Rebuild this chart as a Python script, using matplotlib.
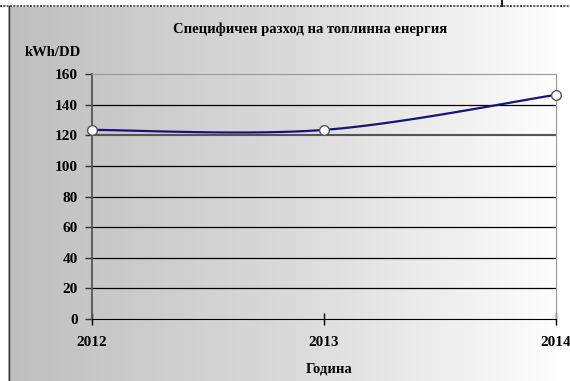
import numpy as np
import matplotlib.pyplot as plt
from matplotlib.lines import Line2D

years = [2012, 2013, 2014]
values = [123.5, 123.5, 146.4]
yticks = [0, 20, 40, 60, 80, 100, 120, 140, 160]

title = "Специфичен разход на топлинна енергия"
ylabel = "kWh/DD"
xlabel = "Година"


def smooth(xs, ys, n=60):
  # Excel-like smoothed line (cubic bezier through the points)
  p = np.column_stack([xs, ys]).astype(float)
  out = []
  for i in range(len(p) - 1):
    p0 = p[i - 1] if i > 0 else p[i]
    p3 = p[i + 2] if i + 2 < len(p) else p[i + 1]
    c1 = p[i] + (p[i + 1] - p0) / 6
    c2 = p[i + 1] - (p3 - p[i]) / 6
    t = np.linspace(0, 1, n)[:, None]
    seg = (1 - t) ** 3 * p[i] + 3 * (1 - t) ** 2 * t * c1 + 3 * (1 - t) * t ** 2 * c2 + t ** 3 * p[i + 1]
    out.append(seg)
  s = np.vstack(out)
  return s[:, 0], s[:, 1]


plt.rcParams['font.family'] = ['Liberation Serif', 'DejaVu Serif']
plt.rcParams['font.weight'] = 'bold'

W, H = 570, 381
fig = plt.figure(figsize=(W / 100, H / 100), dpi=100)
fig.patch.set_facecolor('white')

# gradient background of the chart area
bg = fig.add_axes([8 / W, 0, 1 - 8 / W, 1 - 7 / H])
grad = np.linspace(0, 1, 256)[None, :]
bg.imshow(grad, aspect='auto', cmap=plt.matplotlib.colors.LinearSegmentedColormap.from_list(
  'g', ['#bfbfbf', '#dadada', '#ffffff']), extent=[0, 1, 0, 1])
bg.set_axis_off()

# frame bits
fig.add_artist(Line2D([0, 1], [1 - 6 / H, 1 - 6 / H], color='#333333', lw=1.2, ls=(0, (1.2, 0.8))))
fig.add_artist(Line2D([8.5 / W, 8.5 / W], [0, 1 - 6 / H], color='#333333', lw=1.0))
fig.add_artist(Line2D([502 / W, 502 / W], [1 - 6 / H, 1], color='#222222', lw=1.5))

ax = fig.add_axes([92 / W, 1 - 319 / H, (556 - 92) / W, (319 - 74) / H])
ax.patch.set_alpha(0)

for v in yticks[1:-1]:
  c = '#555555' if v == 120 else 'black'
  ax.axhline(v, color=c, lw=0.9 if v != 120 else 1.5, zorder=1)

sx, sy = smooth(years, values)
ax.plot(sx, sy, color='#14147a', lw=1.6, zorder=3)
ax.plot(years, values, ls='none', marker='o', ms=7, mfc='white', mec='#555555', mew=1.0, zorder=4,
        clip_on=False)

ax.set_xlim(2012, 2014)
ax.set_ylim(0, 160)
ax.set_xticks(years)
ax.set_yticks(yticks)
ax.tick_params(axis='y', direction='out', length=5, width=1, color='#333333', labelsize=11, pad=5)
ax.tick_params(axis='x', direction='inout', length=8, width=1, color='black', labelsize=11, pad=8)
for lab in ax.get_xticklabels() + ax.get_yticklabels():
  lab.set_fontweight('bold')

ax.spines['top'].set_color('#999999')
ax.spines['right'].set_color('#999999')
ax.spines['left'].set_color('#555555')
ax.spines['bottom'].set_color('black')
ax.spines['left'].set_linewidth(1.3)

fig.text(310 / W, 1 - 29 / H, title, ha='center', va='center', fontsize=10.5, fontweight='bold')
fig.text(53 / W, 1 - 53 / H, ylabel, ha='center', va='center', fontsize=10.5, fontweight='bold')
fig.text(329 / W, 1 - 369 / H, xlabel, ha='center', va='center', fontsize=10.5, fontweight='bold')

fig.savefig('out.png', dpi=100)
